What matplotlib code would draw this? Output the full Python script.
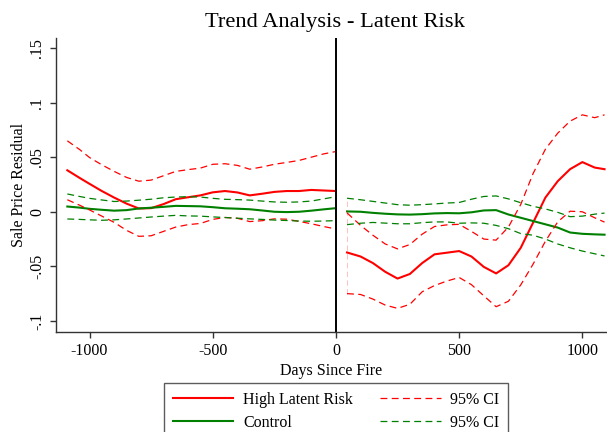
import matplotlib
matplotlib.use("Agg")
import matplotlib.pyplot as plt
from matplotlib.ticker import FixedLocator, FixedFormatter

# ---------------- data ----------------
left_days = [-1090, -1040, -1000, -950, -900, -850, -800, -750, -700, -650, -600,
             -550, -500, -450, -400, -350, -300, -250, -200, -150, -100, -50, 0]
right_days = [45, 100, 150, 200, 250, 300, 350, 400, 450, 500, 550, 600, 650,
              700, 750, 800, 850, 900, 950, 1000, 1050, 1090]

# High Latent Risk (pre-fire)
risk_left = [0.038, 0.031, 0.0256, 0.019, 0.013, 0.0075, 0.003, 0.0033, 0.007, 0.0115, 0.0133,
             0.015, 0.0178, 0.019, 0.0177, 0.015, 0.0165, 0.0182, 0.019, 0.019, 0.020, 0.0195, 0.019]
risk_hi_left = [0.065, 0.057, 0.0497, 0.043, 0.037, 0.0315, 0.028, 0.029, 0.033, 0.037, 0.0386,
                0.040, 0.0435, 0.044, 0.0425, 0.039, 0.041, 0.0435, 0.0452, 0.047, 0.050, 0.053, 0.0552]
risk_lo_left = [0.011, 0.006, 0.0017, -0.004, -0.0097, -0.017, -0.0225, -0.022, -0.018, -0.014, -0.0118,
                -0.0107, -0.007, -0.0052, -0.006, -0.009, -0.0082, -0.0065, -0.0068, -0.0088, -0.011, -0.0135, -0.0158]
# Control (pre-fire)
ctrl_left = [0.0048, 0.0038, 0.0027, 0.0018, 0.001, 0.0015, 0.003, 0.0037, 0.0045, 0.0054, 0.0052,
             0.005, 0.0042, 0.0032, 0.0028, 0.0023, 0.0012, 0.0, -0.0003, 0.0, 0.001, 0.0022, 0.0033]
ctrl_hi_left = [0.0163, 0.014, 0.0123, 0.0108, 0.0094, 0.0098, 0.0106, 0.0115, 0.0128, 0.0135, 0.0138,
                0.0135, 0.0123, 0.0114, 0.0111, 0.0107, 0.0098, 0.009, 0.0087, 0.009, 0.0098, 0.0118, 0.0138]
ctrl_lo_left = [-0.0066, -0.007, -0.0074, -0.0078, -0.0074, -0.0066, -0.0057, -0.0048, -0.004, -0.0033, -0.0038,
                -0.004, -0.0047, -0.0053, -0.0059, -0.0065, -0.007, -0.0076, -0.008, -0.0085, -0.0087, -0.0085, -0.0081]

# High Latent Risk (post-fire)
risk_right = [-0.0373, -0.041, -0.047, -0.055, -0.0612, -0.057, -0.047, -0.039, -0.0375, -0.036, -0.041,
              -0.0505, -0.0565, -0.049, -0.033, -0.010, 0.013, 0.028, 0.039, 0.0455, 0.0405, 0.039]
risk_hi_right = [-0.001, -0.0125, -0.0215, -0.0295, -0.034, -0.030, -0.0205, -0.0135, -0.012, -0.0115, -0.018,
                 -0.025, -0.026, -0.014, 0.0067, 0.035, 0.0573, 0.072, 0.083, 0.0888, 0.0862, 0.0888]
risk_lo_right = [-0.075, -0.0758, -0.080, -0.0855, -0.0885, -0.0848, -0.0733, -0.0676, -0.0635, -0.0602, -0.0668,
                 -0.077, -0.087, -0.082, -0.067, -0.048, -0.027, -0.0093, 0.0005, 0.0, -0.0055, -0.0095]
# Control (post-fire)
ctrl_right = [0.0003, 0.0, -0.001, -0.0018, -0.0024, -0.0026, -0.0022, -0.0015, -0.0012, -0.0014, -0.0005,
              0.0012, 0.0015, -0.0025, -0.0055, -0.0085, -0.0115, -0.0145, -0.019, -0.0202, -0.0207, -0.021]
ctrl_hi_right = [0.0124, 0.011, 0.0095, 0.008, 0.0065, 0.006, 0.0065, 0.0072, 0.008, 0.0085, 0.0115,
                 0.014, 0.0145, 0.0118, 0.0083, 0.005, 0.0026, -0.0005, -0.0045, -0.004, -0.0022, -0.0012]
ctrl_lo_right = [-0.0118, -0.0105, -0.0098, -0.0104, -0.011, -0.011, -0.010, -0.0093, -0.0093, -0.0105, -0.0102,
                 -0.0105, -0.0125, -0.0155, -0.020, -0.0215, -0.025, -0.0295, -0.033, -0.036, -0.0385, -0.0405]

x_ticks = [-1000, -500, 0, 500, 1000]
y_ticks = [0.15, 0.1, 0.05, 0, -0.05, -0.1]
y_tick_labels = [".15", ".1", ".05", "0", "-.05", "-.1"]

title = "Trend Analysis - Latent Risk"
x_label = "Days Since Fire"
y_label = "Sale Price Residual"
legend_labels = ["High Latent Risk", "Control", "95% CI", "95% CI"]

# ---------------- style ----------------
plt.rcParams['font.family'] = ['Liberation Serif', 'DejaVu Serif']
RED = '#ff0000'
GREEN = '#008000'
SPINE = '#333333'
dash = (0, (5.5, 3.5))

fig = plt.figure(figsize=(6.07, 4.32), dpi=100)
ax = fig.add_axes([56/607, 1 - 331.5/432, 1 - 56/607, (331.5 - 38)/432])

# solid lines
l_risk, = ax.plot(left_days, risk_left, color=RED, lw=1.5)
ax.plot(right_days, risk_right, color=RED, lw=1.5)
l_ctrl, = ax.plot(left_days, ctrl_left, color=GREEN, lw=1.5)
ax.plot(right_days, ctrl_right, color=GREEN, lw=1.5)

# CI lines
l_rci, = ax.plot(left_days, risk_hi_left, color=RED, lw=0.9, ls=dash)
ax.plot(left_days, risk_lo_left, color=RED, lw=0.9, ls=dash)
for s in (risk_hi_right, risk_lo_right):
    ax.plot(right_days, s, color=RED, lw=0.9, ls=dash)
l_cci, = ax.plot(left_days, ctrl_hi_left, color=GREEN, lw=0.9, ls=dash)
ax.plot(left_days, ctrl_lo_left, color=GREEN, lw=0.9, ls=dash)
for s in (ctrl_hi_right, ctrl_lo_right):
    ax.plot(right_days, s, color=GREEN, lw=0.9, ls=dash)

# faint connector at start of post-fire segment
ax.vlines(right_days[0], risk_lo_right[0], ctrl_hi_right[0], color=RED, lw=0.7,
          ls=dash, alpha=0.25)

# fire date line
ax.axvline(0, color='black', lw=1.4)

ax.set_xlim(-1136, 1100)
ax.set_ylim(-0.1097, 0.1592)

for side in ('top', 'right'):
    ax.spines[side].set_visible(False)
for side in ('left', 'bottom'):
    ax.spines[side].set_color(SPINE)
    ax.spines[side].set_linewidth(1.0)

ax.xaxis.set_major_locator(FixedLocator(x_ticks))
ax.set_xticklabels([str(v) for v in x_ticks])
ax.yaxis.set_major_locator(FixedLocator(y_ticks))
ax.yaxis.set_major_formatter(FixedFormatter(y_tick_labels))
ax.tick_params(axis='both', direction='out', length=4.5, width=1.0, color=SPINE,
               labelsize=11.5, pad=3.5)
plt.setp(ax.get_yticklabels(), rotation=90, va='center')

ax.set_xlabel(x_label, fontsize=11.5, labelpad=3)
ax.set_ylabel(y_label, fontsize=11.5, labelpad=1)
fig.text(335/607, 1 - 22/432, title, ha='center', va='center', fontsize=16.2)

leg = fig.legend([l_risk, l_ctrl, l_rci, l_cci], legend_labels, ncol=2,
                 loc='upper center', bbox_to_anchor=(336/607, 1 - 383/432),
                 fontsize=11.5, frameon=True, fancybox=False, handlelength=3.8,
                 handletextpad=0.6, columnspacing=1.7, labelspacing=0.45,
                 borderpad=0.55, borderaxespad=0)
leg.get_frame().set_edgecolor(SPINE)
leg.get_frame().set_linewidth(1.0)

fig.savefig('out.png', dpi=100)
